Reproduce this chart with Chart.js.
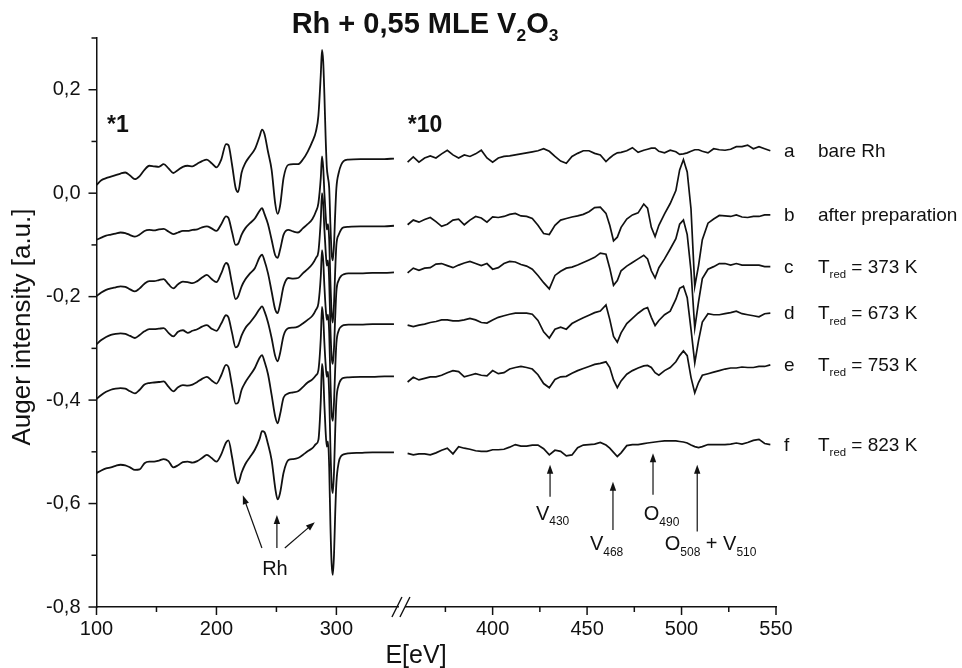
<!DOCTYPE html>
<html><head><meta charset="utf-8">
<script src="https://cdn.jsdelivr.net/npm/chart.js@4.4.1/dist/chart.umd.min.js"></script>
<style>html,body{margin:0;padding:0;background:#fff}</style>
</head><body>
<canvas id="c" width="962" height="668"></canvas>
<script>
// ---------------- data ----------------
const eLeft = [100,104,108,112,116,120,124,128,132,136,140,144,148,152,156,160,164,168,172,176,180,184,188,192,196,200,
  204,208,210,213,216,218,221,224,228,232,236,238,240,243,246,249,251,253,256,260,264,268,272,276,280,
  283,285,287,288,289,290,291,292,293,294,295,296,297,298,299,300,
  302,304,306,310,320,330,340,348];
const eRight = [355,358,361,364,367,370,373,376,379,382,385,388,391,394,397,400,403,406,409,412,415,418,421,424,427,430,433,436,439,442,445,448,451,454,457,460,
  462,464,466,468,471,474,477,480,482,484,486,488,491,494,497,499,501,503,505,507,509,511,
  514,517,520,523,526,529,532,535,538,541,544,547];

const aLeft = [.016,.025,.029,.032,.035,.038,.040,.034,.027,.033,.045,.053,.052,.051,.056,.048,.039,.045,.051,.053,.052,.057,.062,.065,.058,.050,
  .065,.095,.093,.055,.010,.002,.040,.058,.072,.085,.110,.123,.115,.080,.045,-.020,-.040,-.025,.030,.055,.056,.056,.065,.080,.100,
  .120,.150,.230,.277,.255,.190,.110,.050,.030,.010,-.060,-.115,-.130,-.100,-.040,.010,
  .040,.055,.062,.065,.066,.066,.066,.067];
const bLeft = [-.090,-.086,-.082,-.080,-.078,-.076,-.077,-.081,-.084,-.080,-.073,-.071,-.072,-.070,-.069,-.074,-.079,-.076,-.073,-.073,-.071,-.070,-.066,-.064,-.068,-.073,
  -.060,-.045,-.048,-.075,-.100,-.098,-.080,-.068,-.058,-.049,-.034,-.029,-.040,-.060,-.090,-.120,-.125,-.110,-.080,-.071,-.074,-.076,-.068,-.060,-.050,
  -.035,-.019,.030,.071,.050,.000,-.040,-.070,-.060,-.090,-.170,-.230,-.250,-.215,-.150,-.100,
  -.080,-.070,-.066,-.065,-.064,-.064,-.064,-.063];
const cLeft = [-.199,-.192,-.187,-.184,-.182,-.180,-.181,-.186,-.190,-.184,-.175,-.170,-.170,-.168,-.166,-.176,-.184,-.176,-.171,-.172,-.174,-.170,-.163,-.158,-.166,-.172,
  -.155,-.135,-.140,-.175,-.205,-.200,-.180,-.167,-.155,-.145,-.124,-.119,-.130,-.155,-.190,-.225,-.232,-.215,-.180,-.164,-.165,-.164,-.155,-.147,-.137,
  -.125,-.113,-.050,.000,-.020,-.070,-.110,-.140,-.130,-.170,-.260,-.315,-.330,-.300,-.240,-.190,
  -.168,-.160,-.157,-.155,-.155,-.154,-.154,-.153];
const dLeft = [-.292,-.284,-.278,-.274,-.272,-.271,-.272,-.276,-.280,-.274,-.267,-.263,-.263,-.262,-.261,-.270,-.277,-.268,-.265,-.270,-.266,-.263,-.258,-.255,-.262,-.266,
  -.252,-.236,-.240,-.270,-.298,-.295,-.275,-.261,-.250,-.238,-.224,-.219,-.228,-.250,-.280,-.315,-.325,-.310,-.275,-.261,-.260,-.258,-.252,-.245,-.237,
  -.225,-.213,-.160,-.110,-.130,-.180,-.220,-.245,-.235,-.270,-.360,-.425,-.440,-.405,-.340,-.290,
  -.265,-.258,-.255,-.254,-.254,-.253,-.253,-.253];
const eCurveLeft = [-.398,-.390,-.384,-.380,-.378,-.377,-.378,-.383,-.387,-.380,-.370,-.367,-.366,-.365,-.364,-.374,-.383,-.375,-.371,-.372,-.370,-.365,-.359,-.355,-.362,-.368,
  -.352,-.332,-.336,-.372,-.407,-.405,-.380,-.366,-.352,-.338,-.318,-.313,-.325,-.350,-.390,-.432,-.445,-.428,-.395,-.387,-.385,-.383,-.375,-.366,-.360,
  -.352,-.342,-.280,-.220,-.240,-.290,-.330,-.355,-.345,-.390,-.490,-.560,-.580,-.540,-.460,-.400,
  -.370,-.360,-.357,-.356,-.355,-.355,-.354,-.354];
const fLeft = [-.541,-.536,-.532,-.530,-.527,-.525,-.526,-.530,-.535,-.534,-.522,-.519,-.519,-.517,-.514,-.518,-.530,-.526,-.520,-.519,-.521,-.518,-.512,-.506,-.512,-.519,
  -.505,-.482,-.478,-.510,-.550,-.561,-.540,-.524,-.510,-.496,-.475,-.460,-.462,-.485,-.516,-.570,-.592,-.580,-.540,-.516,-.514,-.512,-.506,-.499,-.493,
  -.485,-.477,-.400,-.330,-.350,-.410,-.460,-.490,-.480,-.530,-.640,-.715,-.738,-.700,-.620,-.560,
  -.520,-.508,-.505,-.503,-.502,-.501,-.501,-.501];

const aRight = [.060,.070,.060,.068,.072,.068,.076,.083,.074,.068,.074,.071,.076,.083,.068,.060,.068,.071,.072,.074,.076,.078,.080,.082,.086,.081,.071,.062,.058,.071,.077,.082,.082,.077,.074,.061,
  .068,.074,.078,.079,.082,.088,.079,.083,.085,.087,.087,.081,.078,.083,.080,.075,.076,.078,.081,.084,.084,.081,
  .078,.086,.084,.083,.085,.090,.090,.093,.086,.090,.086,.082];
const bRight = [-.061,-.052,-.056,-.051,-.047,-.055,-.064,-.060,-.052,-.050,-.061,-.052,-.045,-.048,-.056,-.046,-.047,-.045,-.041,-.039,-.044,-.045,-.049,-.062,-.078,-.080,-.062,-.052,-.049,-.046,-.044,-.041,-.036,-.028,-.027,-.039,
  -.062,-.092,-.085,-.066,-.050,-.042,-.038,-.021,-.029,-.066,-.084,-.062,-.040,-.020,.005,.045,.065,.041,-.030,-.180,-.140,-.090,
  -.058,-.050,-.043,-.044,-.045,-.042,-.046,-.047,-.045,-.045,-.042,-.042];
const cRight = [-.154,-.145,-.149,-.145,-.144,-.137,-.136,-.140,-.144,-.139,-.135,-.132,-.136,-.140,-.136,-.147,-.144,-.136,-.132,-.133,-.138,-.141,-.147,-.159,-.173,-.185,-.159,-.151,-.145,-.143,-.139,-.134,-.129,-.124,-.116,-.118,
  -.145,-.178,-.169,-.150,-.141,-.134,-.127,-.120,-.127,-.150,-.164,-.144,-.127,-.108,-.088,-.060,-.052,-.080,-.150,-.261,-.210,-.165,
  -.147,-.142,-.136,-.136,-.139,-.136,-.139,-.139,-.139,-.139,-.142,-.142];
const dRight = [-.255,-.258,-.255,-.253,-.250,-.248,-.245,-.245,-.247,-.247,-.245,-.242,-.245,-.250,-.251,-.245,-.240,-.237,-.234,-.232,-.232,-.232,-.234,-.246,-.268,-.280,-.263,-.259,-.263,-.252,-.246,-.241,-.236,-.231,-.228,-.216,
  -.244,-.277,-.288,-.270,-.252,-.242,-.232,-.224,-.221,-.240,-.256,-.246,-.235,-.228,-.205,-.184,-.180,-.202,-.263,-.328,-.285,-.249,
  -.233,-.235,-.235,-.233,-.231,-.228,-.233,-.235,-.237,-.239,-.233,-.232];
const eCurveRight = [-.365,-.356,-.361,-.358,-.355,-.355,-.352,-.347,-.343,-.345,-.355,-.352,-.349,-.352,-.353,-.343,-.349,-.347,-.340,-.337,-.335,-.337,-.340,-.351,-.368,-.376,-.360,-.355,-.354,-.348,-.343,-.339,-.335,-.331,-.329,-.326,
  -.337,-.361,-.376,-.363,-.350,-.343,-.338,-.334,-.333,-.337,-.347,-.352,-.343,-.337,-.326,-.314,-.305,-.314,-.356,-.386,-.366,-.352,
  -.349,-.346,-.343,-.340,-.338,-.338,-.336,-.337,-.337,-.335,-.335,-.332];
const fRight = [-.503,-.506,-.504,-.504,-.506,-.502,-.497,-.493,-.504,-.490,-.493,-.495,-.498,-.499,-.499,-.496,-.496,-.495,-.491,-.486,-.489,-.489,-.487,-.487,-.494,-.506,-.497,-.499,-.508,-.506,-.492,-.487,-.486,-.485,-.482,-.487,
  -.493,-.501,-.509,-.502,-.488,-.486,-.486,-.484,-.483,-.482,-.481,-.480,-.479,-.479,-.479,-.480,-.481,-.483,-.487,-.490,-.492,-.490,
  -.486,-.486,-.486,-.486,-.485,-.483,-.485,-.482,-.478,-.476,-.484,-.486];

const curveLetters = ['a','b','c','d','e','f'];
const curveNotes = [['bare Rh'],['after preparation'],['T','red',' = 373 K'],['T','red',' = 673 K'],['T','red',' = 753 K'],['T','red',' = 823 K']];
const xMajorTicks = [100,200,300,400,450,500,550];
const xMinorTicks = [150,250,375,425,475,525];
const yMajorTicks = [0.2,0,-0.2,-0.4,-0.6,-0.8];
const yMinorTicks = [0.3,0.1,-0.1,-0.3,-0.5,-0.7];

// ---------------- broken energy axis ----------------
const BREAK_E = 353, RIGHT_ANCHOR_E = 400, RIGHT_ANCHOR_D = 430.25, RIGHT_STRETCH = 1.575;
function toAxis(E){ return E <= BREAK_E ? E : RIGHT_ANCHOR_D + (E - RIGHT_ANCHOR_E) * RIGHT_STRETCH; }
function fromAxis(D){
  if (D <= BREAK_E) return D;
  const dStart = toAxis(BREAK_E + 1e-9);
  if (D < dStart) return BREAK_E;
  return RIGHT_ANCHOR_E + (D - RIGHT_ANCHOR_D) / RIGHT_STRETCH;
}
class BrokenAxis extends Chart.LinearScale {
  static id = 'brokenAxis';
  static defaults = {};
  buildTicks(){ this.start = this.min; this.end = this.max; return xMajorTicks.concat(xMinorTicks).sort((p,q)=>p-q).map(v => ({value: v})); }
  getPixelForValue(v){ const a = toAxis(this.min), b = toAxis(this.max); return this.getPixelForDecimal((toAxis(v) - a) / (b - a)); }
  getValueForPixel(p){ const a = toAxis(this.min), b = toAxis(this.max); return fromAxis(a + this.getDecimalForPixel(p) * (b - a)); }
}
Chart.register(BrokenAxis);

// ---------------- datasets ----------------
const INK = '#111';
const FONT = '"Liberation Sans", Arial, Helvetica, sans-serif';
const lefts = [aLeft,bLeft,cLeft,dLeft,eCurveLeft,fLeft];
const rights = [aRight,bRight,cRight,dRight,eCurveRight,fRight];
const datasets = [];
lefts.forEach((L, k) => {
  datasets.push({ label: curveLetters[k] + ' *1', data: eLeft.map((E,i)=>({x:E, y:L[i]})),
    borderColor: INK, borderWidth: 1.8, pointRadius: 0, fill: false, cubicInterpolationMode: 'monotone' });
  datasets.push({ label: curveLetters[k] + ' *10', data: eRight.map((E,i)=>({x:E, y:rights[k][i]})),
    borderColor: INK, borderWidth: 1.7, pointRadius: 0, fill: false, tension: 0 });
});

// ---------------- annotation helpers ----------------
function drawRuns(ctx, x, y, runs, size, weight, align){
  let total = 0;
  runs.forEach(r => { ctx.font = `${weight} ${r.sub ? size*0.6 : size}px ${FONT}`; total += ctx.measureText(r.t).width; });
  let cx = align === 'center' ? x - total/2 : x;
  ctx.textAlign = 'left'; ctx.textBaseline = 'alphabetic';
  runs.forEach(r => {
    ctx.font = `${weight} ${r.sub ? size*0.6 : size}px ${FONT}`;
    ctx.fillText(r.t, cx, r.sub ? y + size*0.28 : y);
    cx += ctx.measureText(r.t).width;
  });
}
function arrow(ctx, x1, y1, x2, y2){
  const ang = Math.atan2(y2-y1, x2-x1), L = 9, W = 3.2;
  ctx.beginPath(); ctx.moveTo(x1,y1); ctx.lineTo(x2 - Math.cos(ang)*L*0.8, y2 - Math.sin(ang)*L*0.8); ctx.stroke();
  ctx.beginPath(); ctx.moveTo(x2,y2);
  ctx.lineTo(x2 - Math.cos(ang)*L - Math.sin(ang)*W, y2 - Math.sin(ang)*L + Math.cos(ang)*W);
  ctx.lineTo(x2 - Math.cos(ang)*L + Math.sin(ang)*W, y2 - Math.sin(ang)*L - Math.cos(ang)*W);
  ctx.closePath(); ctx.fill();
}
// arrows in data coordinates: [E tail, value tail, E head, value head]
const rhArrows = [[237.9,-0.686,222,-0.584],[250.4,-0.686,250.4,-0.622],[257,-0.686,282,-0.636]];
const peakArrows = [[430.4,-0.587,430.4,-0.525],[463.7,-0.651,463.7,-0.558],[484.9,-0.583,484.9,-0.503],[508.3,-0.654,508.3,-0.525]];
// label anchors: left energy and baseline value
const peakLabels = [
  {E:422.9, v:-0.631, runs:[{t:'V'},{t:'430',sub:1}]},
  {E:451.5, v:-0.690, runs:[{t:'V'},{t:'468',sub:1}]},
  {E:480.0, v:-0.632, runs:[{t:'O'},{t:'490',sub:1}]},
  {E:491.1, v:-0.690, runs:[{t:'O'},{t:'508',sub:1},{t:' + V'},{t:'510',sub:1}]}
];

const overlay = {
  id: 'overlay',
  afterDraw(chart){
    const {ctx, chartArea: ca, scales: {x, y}} = chart;
    ctx.save();
    ctx.strokeStyle = INK; ctx.fillStyle = INK; ctx.lineWidth = 1.5;
    const tk = (x1,y1,x2,y2)=>{ ctx.beginPath(); ctx.moveTo(x1,y1); ctx.lineTo(x2,y2); ctx.stroke(); };
    xMajorTicks.forEach(v => { const p = x.getPixelForValue(v); tk(p, ca.bottom, p, ca.bottom+8); });
    xMinorTicks.forEach(v => { const p = x.getPixelForValue(v); tk(p, ca.bottom, p, ca.bottom+5); });
    yMajorTicks.forEach(v => { const p = y.getPixelForValue(v); tk(ca.left-8, p, ca.left, p); });
    yMinorTicks.forEach(v => { const p = y.getPixelForValue(v); tk(ca.left-5, p, ca.left, p); });
    // axis break
    const bx = x.getPixelForValue(BREAK_E);
    ctx.fillStyle = '#fff'; ctx.fillRect(bx-1, ca.bottom-3, 6, 6); ctx.fillStyle = INK;
    ctx.lineWidth = 1.4;
    tk(bx-8, ca.bottom+10, bx+2, ca.bottom-10);
    tk(bx, ca.bottom+10, bx+10, ca.bottom-10);
    ctx.lineWidth = 1.2;
    // title
    drawRuns(ctx, 425, 33, [{t:'Rh + 0,55 MLE V'},{t:'2',sub:1},{t:'O'},{t:'3',sub:1}], 29, 'bold', 'center');
    // scale factors
    drawRuns(ctx, x.getPixelForValue(108.75), y.getPixelForValue(0.134)+8, [{t:'*1'}], 23, 'bold', 'left');
    drawRuns(ctx, x.getPixelForValue(355.1), y.getPixelForValue(0.134)+8, [{t:'*10'}], 23, 'bold', 'left');
    // curve labels
    rights.forEach((R, k) => {
      const py = y.getPixelForValue(R[R.length-1]);
      drawRuns(ctx, ca.right + 8, py + 6, [{t: curveLetters[k]}], 19, 'normal', 'left');
      const n = curveNotes[k];
      const runs = n.length === 1 ? [{t:n[0]}] : [{t:n[0]},{t:n[1],sub:1},{t:n[2]}];
      drawRuns(ctx, ca.right + 42, py + 6, runs, 19, 'normal', 'left');
    });
    // Rh arrows
    rhArrows.forEach(a => arrow(ctx, x.getPixelForValue(a[0]), y.getPixelForValue(a[1]), x.getPixelForValue(a[2]), y.getPixelForValue(a[3])));
    drawRuns(ctx, x.getPixelForValue(248.75), y.getPixelForValue(-0.724)+7, [{t:'Rh'}], 20, 'normal', 'center');
    peakArrows.forEach(a => arrow(ctx, x.getPixelForValue(a[0]), y.getPixelForValue(a[1]), x.getPixelForValue(a[2]), y.getPixelForValue(a[3])));
    peakLabels.forEach(l => drawRuns(ctx, x.getPixelForValue(l.E), y.getPixelForValue(l.v), l.runs, 20, 'normal', 'left'));
    // axis titles
    ctx.font = `25px ${FONT}`; ctx.textAlign = 'center'; ctx.textBaseline = 'alphabetic';
    ctx.fillText('E[eV]', 416, 663);
    ctx.translate(30, 327); ctx.rotate(-Math.PI/2);
    ctx.font = `26px ${FONT}`; ctx.fillText('Auger intensity [a.u.]', 0, 0);
    ctx.restore();
  }
};

new Chart(document.getElementById('c'), {
  type: 'line',
  data: { datasets },
  options: {
    responsive: false, animation: false, events: [],
    layout: { padding: { top: 38, right: 186, left: 0, bottom: 0 } },
    plugins: { legend: {display:false}, tooltip: {enabled:false}, title: {display:false} },
    scales: {
      x: {
        type: 'brokenAxis', min: 100, max: 550,
        grid: { display: false, drawTicks: true, tickLength: 8 },
        border: { display: true, color: INK, width: 1.5 },
        ticks: { autoSkip: false, maxRotation: 0, color: INK, padding: 2, font: { family: FONT, size: 20 },
          callback: v => xMajorTicks.includes(v) ? String(v) : '' },
        afterFit: s => { s.height = 61; }
      },
      y: {
        type: 'linear', min: -0.8, max: 0.3,
        afterBuildTicks: s => { s.ticks = yMajorTicks.concat(yMinorTicks).map(v => ({value: v})); },
        grid: { display: false, drawTicks: true, tickLength: 8 },
        border: { display: true, color: INK, width: 1.5 },
        ticks: { autoSkip: false, color: INK, padding: 8, font: { family: FONT, size: 20 },
          callback: v => { const r = Math.round(v*10); return r % 2 === 0 ? (r/10).toFixed(1).replace('.', ',').replace('-0,0','0,0') : ''; } },
        afterFit: s => { s.width = 96.5; }
      }
    }
  },
  plugins: [overlay]
});
</script>
</body></html>
